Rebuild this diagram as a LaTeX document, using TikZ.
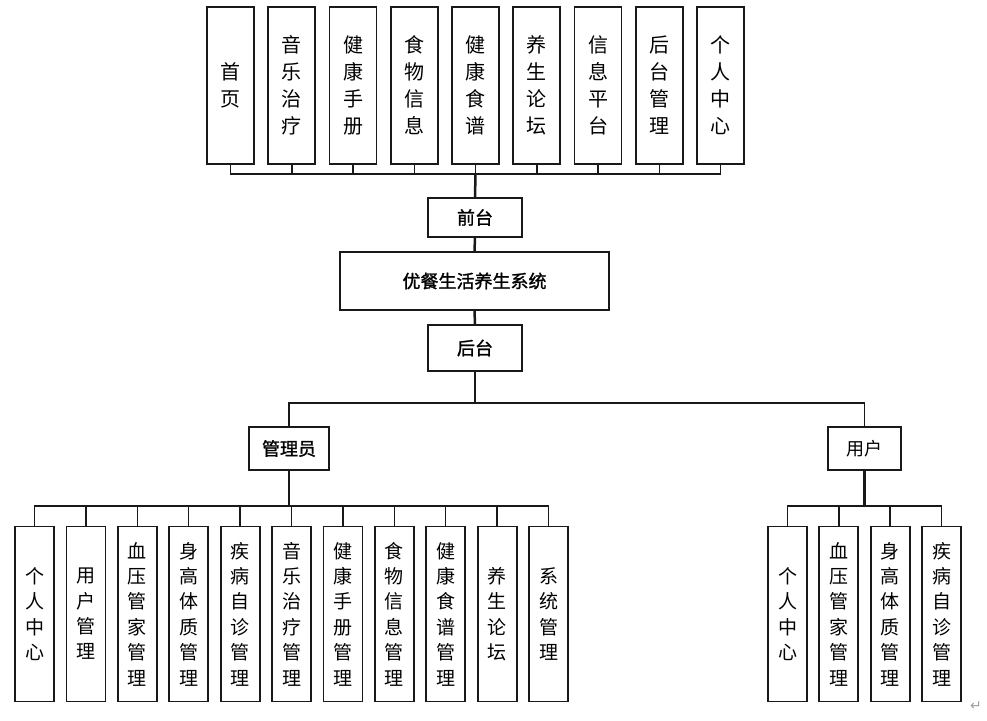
\documentclass[tikz,border=0pt]{standalone}
\usepackage{fontspec}
\newfontfamily\cjk{Noto Sans CJK SC}
\newfontfamily\cjkb[FakeBold=1.4]{Noto Sans CJK SC}
\newfontfamily\symb{DejaVu Sans}
\definecolor{mkgray}{rgb}{0.62,0.62,0.62}
\definecolor{lnblack}{rgb}{0.1,0.1,0.1}

\begin{document}
\begin{tikzpicture}[x=1pt,y=-1pt,
	box/.style={draw=lnblack, line width=1.8pt, inner sep=0pt, align=center},
	topbox/.style={box, minimum width=47pt, minimum height=157pt, font=\cjk\fontsize{20}{27}\selectfont},
	subbox/.style={box, minimum width=39pt, minimum height=175pt, font=\cjk\fontsize{19}{25.4}\selectfont},
	midbox/.style={box, font=\cjkb\fontsize{18}{20}\selectfont},
	link/.style={draw=lnblack, line width=1.5pt},
	trunk/.style={draw=lnblack, line width=2.5pt}]
	\useasboundingbox (0,0) rectangle (987,720);
	% front end
	\foreach \txt [count=\i] in {首\\页,音\\乐\\治\\疗,健\\康\\手\\册,食\\物\\信\\息,健\\康\\食\\谱,养\\生\\论\\坛,信\\息\\平\\台,后\\台\\管\\理,个\\人\\中\\心}
		\node[topbox] (t\i) at ({230.5+61.25*(\i-1)},85.5) {\txt};
	\node[midbox, minimum width=94pt, minimum height=39pt] (qiantai) at (475,217.5) {前台};
	\node[midbox, minimum width=269pt, minimum height=58pt] (xitong) at (474.5,281) {优餐生活养生系统};
	\node[midbox, minimum width=94pt, minimum height=46pt] (houtai) at (475,348) {后台};
	\node[midbox, minimum width=80pt, minimum height=43pt] (guanli) at (289,448.5) {管理员};
	\node[box, font=\cjk\fontsize{18}{20}\selectfont, minimum width=73pt, minimum height=43pt] (yonghu) at (864.5,448.5) {用户};
	% back end
	\foreach \txt [count=\i] in {个\\人\\中\\心,用\\户\\管\\理,血\\压\\管\\家\\管\\理,身\\高\\体\\质\\管\\理,疾\\病\\自\\诊\\管\\理,音\\乐\\治\\疗\\管\\理,健\\康\\手\\册\\管\\理,食\\物\\信\\息\\管\\理,健\\康\\食\\谱\\管\\理,养\\生\\论\\坛,系\\统\\管\\理}
		\node[subbox] (a\i) at ({34.5+51.4*(\i-1)},614) {\txt};
	\foreach \txt [count=\i] in {个\\人\\中\\心,血\\压\\管\\家\\管\\理,身\\高\\体\\质\\管\\理,疾\\病\\自\\诊\\管\\理}
		\node[subbox] (u\i) at ({787.5+51.35*(\i-1)},614) {\txt};
	% connectors
	\foreach \i in {1,...,9}
		\draw[link] (qiantai.north) ++(0,-23) -| (t\i.south);
	\draw[trunk] (t5.south |- qiantai.north) ++(0,-23) -- (qiantai.north);
	\draw[trunk] (qiantai.south) -- (xitong.north);
	\draw[trunk] (xitong.south) -- (houtai.north);
	\draw[link] (houtai.south) -- ++(0,31) -| (guanli.north);
	\draw[link] (houtai.south) -- ++(0,31) -| (yonghu.north);
	\foreach \i in {1,...,11}
		\draw[link] (guanli.south) -- ++(0,35) -| (a\i.north);
	\foreach \i in {1,...,4}
		\draw[link] (yonghu.south) -- ++(0,35) -| (u\i.north);
	\draw[trunk] (guanli.south) -- ++(0,35);
	\draw[trunk] (yonghu.south) -- ++(0,35);
	\node[text=mkgray, font=\symb\fontsize{14}{14}\selectfont] (mark) at (976,706) {↵};
\end{tikzpicture}
\end{document}
